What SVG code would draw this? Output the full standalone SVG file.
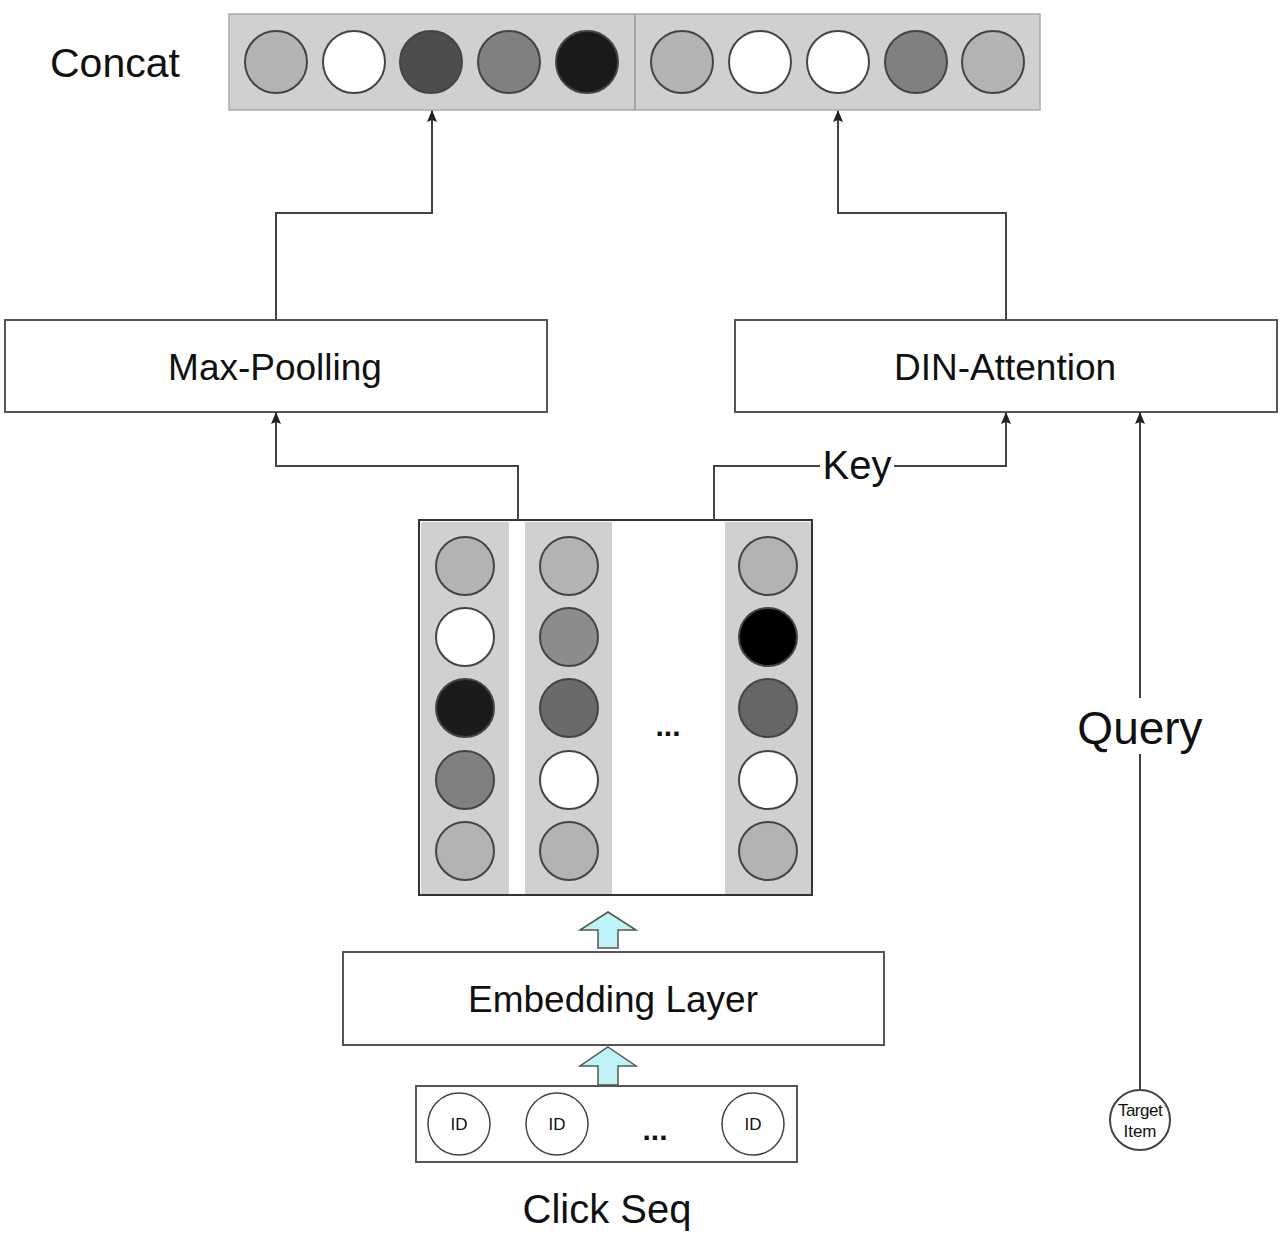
<svg xmlns="http://www.w3.org/2000/svg" width="1284" height="1234" viewBox="0 0 1284 1234">
<defs>
<style>
text{font-family:"Liberation Sans",Arial,sans-serif;fill:#111}
.box{fill:#fff;stroke:#555;stroke-width:2}
.c{stroke:#444;stroke-width:2}
.conn{fill:none;stroke:#444;stroke-width:2}
.col{fill:#d0d0d0}
.big{fill:#bff3f7;stroke:#555;stroke-width:1.5}
</style>
<marker id="ah" markerWidth="12" markerHeight="10" refX="11" refY="5" orient="auto" markerUnits="userSpaceOnUse" viewBox="0 0 12 10">
<path d="M0,0 L12,5 L0,10 L2,5 Z" fill="#222"/>
</marker>
</defs>
<rect width="1284" height="1234" fill="#fff"/>

<g id="concat">
<text x="50" y="77" font-size="41">Concat</text>
<rect x="229" y="14" width="811" height="96" fill="#d0d0d0" stroke="#aaa" stroke-width="1.5"/>
<line x1="635" y1="14" x2="635" y2="110" stroke="#999" stroke-width="1.5"/>
<circle class="c" cx="276" cy="62" r="31" fill="#b3b3b3"/>
<circle class="c" cx="354" cy="62" r="31" fill="#fff"/>
<circle class="c" cx="431" cy="62" r="31" fill="#4d4d4d"/>
<circle class="c" cx="509" cy="62" r="31" fill="#808080"/>
<circle class="c" cx="587" cy="62" r="31" fill="#1a1a1a"/>
<circle class="c" cx="682" cy="62" r="31" fill="#b3b3b3"/>
<circle class="c" cx="760" cy="62" r="31" fill="#fff"/>
<circle class="c" cx="838" cy="62" r="31" fill="#fff"/>
<circle class="c" cx="916" cy="62" r="31" fill="#808080"/>
<circle class="c" cx="993" cy="62" r="31" fill="#b3b3b3"/>
</g>

<g id="maxpool">
<rect class="box" x="5" y="320" width="542" height="92"/>
<text x="275" y="380" font-size="37" text-anchor="middle">Max-Poolling</text>
</g>

<g id="din">
<rect class="box" x="735" y="320" width="542" height="92"/>
<text x="1005" y="380" font-size="37" text-anchor="middle">DIN-Attention</text>
</g>

<g id="matrix">
<rect x="419" y="520" width="393" height="375" fill="#fff" stroke="#333" stroke-width="2"/>
<rect class="col" x="421" y="522" width="88" height="372"/>
<rect class="col" x="525" y="522" width="87" height="372"/>
<rect class="col" x="725" y="522" width="86" height="372"/>
<circle class="c" cx="465" cy="566" r="29" fill="#b3b3b3"/>
<circle class="c" cx="465" cy="637" r="29" fill="#fff"/>
<circle class="c" cx="465" cy="708" r="29" fill="#1a1a1a"/>
<circle class="c" cx="465" cy="780" r="29" fill="#808080"/>
<circle class="c" cx="465" cy="851" r="29" fill="#b3b3b3"/>
<circle class="c" cx="569" cy="566" r="29" fill="#b3b3b3"/>
<circle class="c" cx="569" cy="637" r="29" fill="#8c8c8c"/>
<circle class="c" cx="569" cy="708" r="29" fill="#6a6a6a"/>
<circle class="c" cx="569" cy="780" r="29" fill="#fff"/>
<circle class="c" cx="569" cy="851" r="29" fill="#b3b3b3"/>
<circle class="c" cx="768" cy="566" r="29" fill="#b3b3b3"/>
<circle class="c" cx="768" cy="637" r="29" fill="#000"/>
<circle class="c" cx="768" cy="708" r="29" fill="#666"/>
<circle class="c" cx="768" cy="780" r="29" fill="#fff"/>
<circle class="c" cx="768" cy="851" r="29" fill="#b3b3b3"/>
<text x="668" y="736" font-size="30" font-weight="bold" text-anchor="middle">...</text>
</g>

<g id="embedding">
<rect class="box" x="343" y="952" width="541" height="93"/>
<text x="613" y="1012" font-size="37" text-anchor="middle">Embedding Layer</text>
</g>

<g id="clickseq">
<rect class="box" x="416" y="1086" width="381" height="76"/>
<circle cx="459" cy="1124" r="31" fill="#fff" stroke="#444" stroke-width="1.5"/>
<circle cx="557" cy="1124" r="31" fill="#fff" stroke="#444" stroke-width="1.5"/>
<circle cx="753" cy="1124" r="31" fill="#fff" stroke="#444" stroke-width="1.5"/>
<text x="459" y="1130" font-size="17" text-anchor="middle" fill="#333">ID</text>
<text x="557" y="1130" font-size="17" text-anchor="middle" fill="#333">ID</text>
<text x="753" y="1130" font-size="17" text-anchor="middle" fill="#333">ID</text>
<text x="655" y="1140" font-size="30" font-weight="bold" text-anchor="middle">...</text>
<text x="607" y="1223" font-size="40" text-anchor="middle">Click Seq</text>
</g>

<g id="target">
<circle cx="1140" cy="1120" r="30" fill="#fff" stroke="#444" stroke-width="2"/>
<text x="1140" y="1116" font-size="17" text-anchor="middle" letter-spacing="-0.5">Target</text>
<text x="1140" y="1137" font-size="17" text-anchor="middle">Item</text>
</g>

<g id="connectors">
<path class="conn" d="M276,320 V213 H432 V111" marker-end="url(#ah)"/>
<path class="conn" d="M1006,320 V213 H838 V111" marker-end="url(#ah)"/>
<path class="conn" d="M518,520 V466 H276 V413" marker-end="url(#ah)"/>
<path class="conn" d="M714,520 V466 H1006 V413" marker-end="url(#ah)"/>
<path class="conn" d="M1140,1090 V413" marker-end="url(#ah)"/>
<rect x="820" y="444" width="74" height="40" fill="#fff"/>
<text x="857" y="479" font-size="40" text-anchor="middle">Key</text>
<rect x="1074" y="698" width="132" height="56" fill="#fff"/>
<text x="1140" y="744" font-size="46" text-anchor="middle">Query</text>
<path class="big" d="M608,912 L636,930 L618,930 L618,948 L598,948 L598,930 L580,930 Z"/>
<path class="big" d="M608,1047 L636,1066 L618,1066 L618,1085 L598,1085 L598,1066 L580,1066 Z"/>
</g>
</svg>
